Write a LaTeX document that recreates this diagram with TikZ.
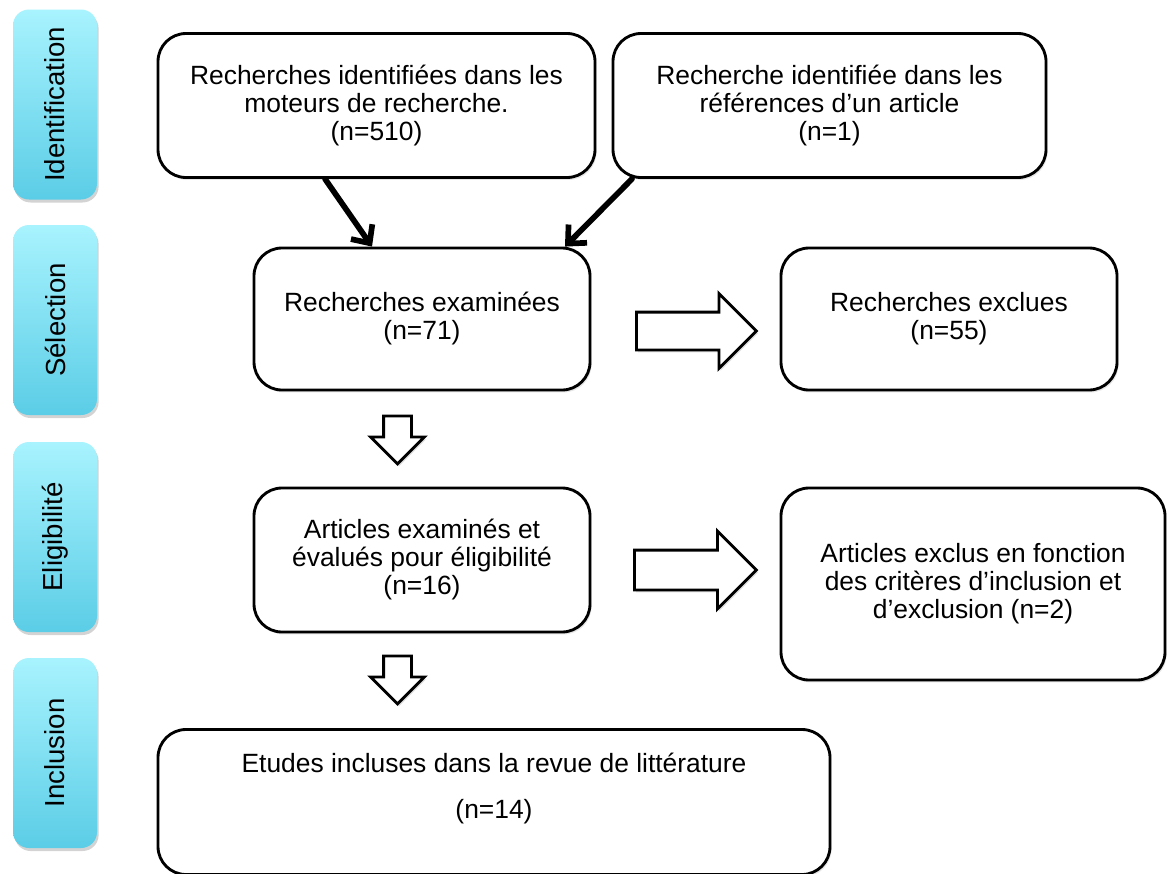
\documentclass[tikz,border=0pt]{standalone}
\usepackage{fontspec}
\setmainfont{Liberation Sans}
\usetikzlibrary{shapes.arrows, shadows, arrows.meta}
\definecolor{ongletHaut}{HTML}{A8F3FE}
\definecolor{ongletBas}{HTML}{5BCDE6}
\tikzset{
  etape/.style={draw, line width = .5mm, rounded corners = 14pt, fill = white, align = center,
    font = \fontsize{13.2}{14}\selectfont, inner sep = 0pt,
    drop shadow = {shadow xshift = .8pt, shadow yshift = -1.2pt, opacity = .2}},
  onglet/.style={rotate = 90, rounded corners = 8pt, top color = ongletHaut, bottom color = ongletBas,
    minimum width = 95pt, minimum height = 42pt, inner sep = 0pt, font = \fontsize{13.8}{14}\selectfont,
    drop shadow = {shadow xshift = .8pt, shadow yshift = -1.5pt, opacity = .35}},
  bloc/.style={single arrow, draw, line width = .5mm, fill = white,
    drop shadow = {shadow xshift = .8pt, shadow yshift = -1.2pt, opacity = .25}},
  fleche/.style={line width = 1mm, -{Straight Barb[length = 7pt, width = 13pt]}, line cap = round}
}
\begin{document}
\begin{tikzpicture}[x = .5pt, y = -.5pt]
        \useasboundingbox (0, 0) rectangle (1167, 873);
        % phases
        \node[onglet] (identification) at (55, 104.5) {Identification};
        \node[onglet] (selection) at (55, 320) {Sélection};
        \node[onglet] (eligibilite) at (55, 537) {Eligibilité};
        \node[onglet] (inclusion) at (55, 753) {Inclusion};
        % boites
        \node[etape, minimum width = 218.5pt, minimum height = 72pt] (moteurs) at (376.5, 105.5)
          {Recherches identifiées dans les\\moteurs de recherche.\\(n=510)};
        \node[etape, minimum width = 216.5pt, minimum height = 72pt] (reference) at (829.5, 105.5)
          {Recherche identifiée dans les\\références d’un article\\(n=1)};
        \node[etape, minimum width = 168pt, minimum height = 71pt] (examinees) at (422, 319)
          {Recherches examinées\\(n=71)};
        \node[etape, minimum width = 168pt, minimum height = 71pt] (exclues) at (949, 319)
          {Recherches exclues\\(n=55)};
        \node[etape, minimum width = 168pt, minimum height = 72pt] (eligibles) at (422, 560)
          {Articles examinés et\\évalués pour éligibilité\\(n=16)};
        \node[etape, minimum width = 192pt, minimum height = 96pt] (exclus) at (973, 584)
          {Articles exclus en fonction\\des critères d’inclusion et\\d’exclusion (n=2)};
        \node[etape, minimum width = 336pt, minimum height = 72.5pt] (incluses) at (494, 802) {};
        \node[align = center, font = \fontsize{13.2}{14}\selectfont] (inclusesTexte) at (494, 789)
          {Etudes incluses dans la revue de littérature\\[9pt](n=14)};
        % fleches
        \draw[fleche] ([xshift = -25.75pt]moteurs.south) -- ([xshift = -25pt]examinees.north);
        \draw[fleche] ([xshift = -98.75pt]reference.south) -- ([xshift = 71.5pt]examinees.north);
        \node[bloc, minimum height = 60pt, inner xsep = 0pt, inner ysep = 8.75pt, single arrow head extend = 9.25pt] (versExclues) at (687, 331) {};
        \node[bloc, minimum height = 61pt, inner xsep = 0pt, inner ysep = 9.25pt, single arrow head extend = 9.5pt] (versExclus) at (685.5, 570) {};
        \node[bloc, shape border rotate = 270, minimum height = 24pt, inner ysep = 0pt, inner xsep = 6.25pt, single arrow head extend = 6.5pt] (versEligibles) at (397.5, 433) {};
        \node[bloc, shape border rotate = 270, minimum height = 24pt, inner ysep = 0pt, inner xsep = 6.25pt, single arrow head extend = 6.5pt] (versIncluses) at (397.5, 673) {};
\end{tikzpicture}
\end{document}
